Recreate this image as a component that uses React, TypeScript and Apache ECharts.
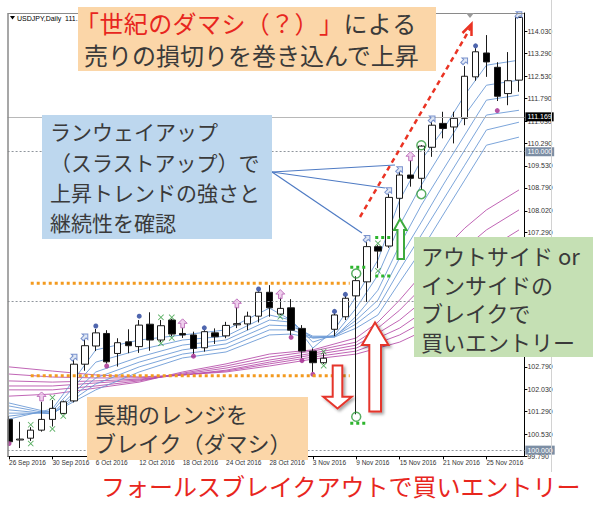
import React, { useEffect, useRef } from "react";
import * as echarts from "echarts";

const dates = ["26 Sep 2016","27 Sep 2016","28 Sep 2016","29 Sep 2016","30 Sep 2016","3 Oct 2016","4 Oct 2016","5 Oct 2016","6 Oct 2016","7 Oct 2016","10 Oct 2016","11 Oct 2016","12 Oct 2016","13 Oct 2016","14 Oct 2016","17 Oct 2016","18 Oct 2016","19 Oct 2016","20 Oct 2016","21 Oct 2016","24 Oct 2016","25 Oct 2016","26 Oct 2016","27 Oct 2016","28 Oct 2016","31 Oct 2016","1 Nov 2016","2 Nov 2016","3 Nov 2016","4 Nov 2016","7 Nov 2016","8 Nov 2016","9 Nov 2016","10 Nov 2016","11 Nov 2016","14 Nov 2016","15 Nov 2016","16 Nov 2016","17 Nov 2016","18 Nov 2016","21 Nov 2016","22 Nov 2016","23 Nov 2016","24 Nov 2016","25 Nov 2016","28 Nov 2016","29 Nov 2016","30 Nov 2016"];

const opens = [101.03,100.34,100.40,100.67,101.03,101.23,101.65,102.88,103.49,103.91,103.24,103.63,103.47,104.22,103.69,104.36,103.91,103.86,103.43,103.93,103.83,104.20,104.23,104.49,105.29,104.56,104.77,104.08,103.32,102.93,104.05,104.47,105.17,105.64,106.82,106.84,108.44,109.22,109.11,110.15,110.95,110.83,111.12,112.51,113.31,112.83,111.95,112.40];
const closes = [100.28,100.37,100.67,101.03,101.40,101.62,102.88,103.50,103.93,102.96,103.60,103.50,104.19,103.69,104.17,103.89,103.86,103.41,103.97,103.80,104.18,104.24,104.49,105.29,104.77,104.75,104.02,103.32,102.93,103.08,104.53,105.09,105.68,106.82,106.67,108.47,109.22,109.11,110.19,110.89,110.78,111.12,112.53,113.35,113.01,111.86,112.38,114.50];
const highs = [101.14,100.95,100.77,101.62,101.68,101.66,103.02,103.69,104.06,104.02,103.75,104.05,104.36,104.62,104.36,104.40,104.09,103.97,104.02,104.08,104.30,104.80,104.64,105.32,105.53,105.13,105.06,104.19,103.41,103.24,104.58,105.16,105.83,106.97,106.87,108.58,109.32,109.72,110.22,110.99,111.34,111.34,112.87,113.47,113.91,113.00,113.34,114.55];
const lows = [100.27,100.07,100.31,100.62,100.79,101.20,101.60,102.66,103.32,102.90,102.80,103.25,103.26,103.33,103.62,103.82,103.76,103.22,103.30,103.56,103.75,104.09,104.02,104.28,104.47,104.52,103.85,103.09,102.62,102.89,103.82,104.36,101.20,104.97,106.10,106.78,107.68,108.83,108.72,109.83,110.45,110.28,110.89,112.38,112.51,111.70,111.56,112.01];

// price scale ticks; labels that the green box hides in the reference are left out
const priceTicks = [99.79,100.53,101.29,102.03,102.79,103.53,104.29,105.03,105.79,106.53,107.29,108.02,108.79,109.53,110.29,111.03,111.79,112.53,113.29,114.03];
const priceLabels = [99.79,100.53,101.29,102.03,102.79,107.29,108.02,108.79,109.53,110.29,111.03,111.79,112.53,113.29,114.03];
const currentPrice = 111.169;
const roundLevels = [110, 105, 100];
const labelledRoundLevels = [110, 100];

// short-term ribbon (fast -> slow), read at these bars
const shortIdx = [0,4,8,12,16,20,24,26,28,30,32,34,36,38,40,42,44,47];
const short1 = [101.04,101.38,103.36,103.69,103.86,104.03,104.76,104.36,103.42,104.03,105.16,106.37,108.38,109.72,110.73,111.90,112.90,113.07];
const short2 = [101.14,101.31,102.95,103.36,103.69,103.82,104.53,104.36,103.62,103.86,104.76,105.87,107.54,108.88,110.06,111.23,112.23,112.40];
const short3 = [101.24,101.24,102.62,103.12,103.52,103.69,104.36,104.29,103.76,103.79,104.49,105.36,106.87,108.21,109.39,110.56,111.73,111.90];
const short4 = [101.35,101.21,102.42,102.95,103.36,103.56,104.19,104.16,103.82,103.82,104.36,105.03,106.44,107.64,108.88,110.06,111.23,111.39];
const short5 = [101.48,101.21,102.22,102.79,103.22,103.42,104.03,104.03,103.79,103.82,104.23,104.79,106.04,107.21,108.38,109.55,110.73,110.99];
const short6 = [101.58,101.24,102.02,102.62,103.09,103.29,103.86,103.89,103.76,103.79,104.09,104.53,105.63,106.70,107.88,109.05,110.22,110.49];

// long-term ribbon (fast -> slow)
const longIdx = [0,4,8,12,16,20,24,28,32,34,36,38,40,42,44,47];
const long1 = [101.81,101.88,102.08,102.28,102.62,102.89,103.22,103.36,103.76,104.29,105.03,105.87,106.70,107.44,108.05,108.72];
const long2 = [102.02,102.02,102.15,102.32,102.58,102.82,103.12,103.32,103.62,104.09,104.69,105.43,106.10,106.77,107.38,108.05];
const long3 = [102.15,102.15,102.25,102.35,102.55,102.75,103.02,103.25,103.52,103.92,104.36,104.96,105.53,106.20,106.70,107.38];
const long4 = [102.32,102.28,102.32,102.38,102.52,102.68,102.95,103.19,103.42,103.76,104.09,104.59,105.10,105.63,106.20,106.77];
const long5 = [102.55,102.45,102.42,102.42,102.52,102.65,102.89,103.12,103.32,103.59,103.86,104.26,104.69,105.20,105.70,106.20];
const long6 = [102.79,102.65,102.52,102.45,102.52,102.62,102.82,103.05,103.22,103.42,103.62,103.96,104.36,104.76,105.20,105.70];

// signal markers [bar, price]
const blueDots = [[8,104.16],[12,104.49],[18,104.10],[23,105.40],[30,104.65],[31,105.22],[43,113.55]];
const magentaDots = [[0,100.22],[9,102.82],[17,103.15],[26,103.78],[27,103.00],[28,102.54],[45,111.38]];
const greenCrosses = [[2,100.85],[2,100.22],[4,101.76],[4,100.71],[5,101.14],[14,104.45],[14,103.58],[15,104.45],[15,103.76],[25,104.47],[29,103.30],[29,102.83],[34,106.93],[34,106.01]];
const pinkArrows = [[3,101.80],[16,104.25],[21,104.92],[25,105.23],[37,109.85]];
const blueArrows = [[6,103.12],[7,103.80],[33,107.10],[35,108.70],[36,109.40],[39,111.10],[42,113.05],[47,114.60]];
const greenCircles = [[32,105.92],[32,101.12],[38,110.22],[38,108.58]];

// annotation levels
const rangeHigh = 105.59;
const rangeLow = 102.49;
const rangeFrom = 2.0;
const rangeTo = 31.4;
const breakouts = [
  { from: 31.45, to: 32.95, high: 106.13, low: 100.9 },
  { from: 33.75, to: 35.3, high: 107.13, low: 105.84 },
];

const JP = '"Noto Sans CJK JP", "Noto Sans", sans-serif';
const SMALL = '"Liberation Sans", "DejaVu Sans", sans-serif';
const RED = "#E8261E";
const DARK = "#3a3a3a";
const ORANGE_BOX = "#FBD6A8";
const BLUE_BOX = "#BDD7EE";
const GREEN_BOX = "#C5E0B4";
const BLUE_MA = "#6E9BD6";
const PURPLE_MA = "#B54AA8";

const pairs = (idx: number[], vals: number[]) => idx.map((x, k) => [x, vals[k]]);

function buildOption(): any {
  const shorts = [short1, short2, short3, short4, short5, short6];
  const longs = [long1, long2, long3, long4, long5, long6];
  const maSeries: any[] = [];
  longs.forEach((vals, k) =>
    maSeries.push({
      type: "line",
      data: pairs(longIdx, vals),
      symbol: "none",
      silent: true,
      lineStyle: { color: PURPLE_MA, width: 1, opacity: 0.85 },
      z: 2,
      name: "long" + k,
    })
  );
  shorts.forEach((vals, k) =>
    maSeries.push({
      type: "line",
      data: pairs(shortIdx, vals),
      symbol: "none",
      silent: true,
      lineStyle: { color: BLUE_MA, width: 1, opacity: 0.9 },
      z: 2,
      name: "short" + k,
    })
  );

  const markLabel = {
    show: true,
    position: "end",
    distance: 1,
    fontSize: 7,
    fontFamily: SMALL,
    color: "#fff",
    padding: [1, 2, 1, 2],
  };

  return {
    animation: false,
    backgroundColor: "#ffffff",
    grid: { left: 3.6, right: 75.6, top: 13, bottom: 51.6, outerBoundsMode: "none", containLabel: false },
    xAxis: {
      type: "category",
      data: dates,
      boundaryGap: true,
      axisLine: { show: true, lineStyle: { color: "#000", width: 1 } },
      axisTick: { show: true, alignWithLabel: true, interval: 3, length: 3, lineStyle: { color: "#000" } },
      axisLabel: { interval: 3, align: "left", fontSize: 6.5, color: "#333", margin: 3, fontFamily: SMALL },
      splitLine: { show: false },
    },
    yAxis: {
      type: "value",
      position: "right",
      min: 99.79,
      max: 114.65,
      splitLine: { show: false },
      axisLine: { show: true, lineStyle: { color: "#000", width: 1 } },
      axisTick: { show: true, length: 3, customValues: priceTicks, lineStyle: { color: "#000" } },
      axisLabel: {
        customValues: priceLabels,
        formatter: (v: number) => v.toFixed(3),
        fontSize: 7,
        color: "#333",
        margin: 3,
        fontFamily: SMALL,
      },
    },
    series: [
      ...maSeries,
      {
        type: "candlestick",
        data: opens.map((o, i) => [o, closes[i], lows[i], highs[i]]),
        barWidth: 7,
        z: 3,
        itemStyle: { color: "#ffffff", color0: "#000000", borderColor: "#1a1a1a", borderColor0: "#1a1a1a", borderWidth: 1 },
        markLine: {
          silent: true,
          symbol: ["none", "none"],
          data: [
            {
              yAxis: currentPrice,
              lineStyle: { color: "#b8b8b8", type: "solid", width: 1 },
              label: { ...markLabel, formatter: currentPrice.toFixed(3), backgroundColor: "#000" },
            },
            ...roundLevels.map((v) => ({
              yAxis: v,
              lineStyle: { color: "#8f959c", type: [2, 2], width: 1 },
              label: labelledRoundLevels.includes(v)
                ? { ...markLabel, formatter: v.toFixed(3), backgroundColor: "#7C8EA4" }
                : { show: false },
            })),
          ],
        },
      },
      {
        type: "scatter",
        data: blueDots,
        symbol: "circle",
        symbolSize: 5,
        itemStyle: { color: "#23409A" },
        z: 5,
      },
      {
        type: "scatter",
        data: magentaDots,
        symbol: "circle",
        symbolSize: 5,
        itemStyle: { color: "#A3288F" },
        z: 5,
      },
      {
        type: "scatter",
        data: greenCrosses,
        symbol: "path://M0,1 L1,0 L5,4 L9,0 L10,1 L6,5 L10,9 L9,10 L5,6 L1,10 L0,9 L4,5 Z",
        symbolSize: 6,
        itemStyle: { color: "#2E9A3A" },
        z: 5,
      },
      {
        type: "scatter",
        data: pinkArrows,
        symbol: "path://M5,0 L10,5 L7,5 L7,10 L3,10 L3,5 L0,5 Z",
        symbolSize: [9, 9],
        itemStyle: { color: "#EBC4E8", borderColor: "#B45AB0", borderWidth: 1 },
        z: 5,
      },
      {
        type: "scatter",
        data: blueArrows,
        symbol: "path://M5,0 L10,5 L7,5 L7,10 L3,10 L3,5 L0,5 Z",
        symbolSize: [8, 8],
        symbolRotate: -45,
        itemStyle: { color: "#D8E2F2", borderColor: "#5A78C0", borderWidth: 1 },
        z: 5,
      },
      {
        type: "scatter",
        data: greenCircles,
        symbol: "circle",
        symbolSize: 9,
        itemStyle: { color: "rgba(255,255,255,0)", borderColor: "#2E9A3A", borderWidth: 1.5 },
        z: 5,
      },
    ],
  };
}

export default function App() {
  const ref = useRef<HTMLDivElement>(null);
  useEffect(() => {
    const el = ref.current;
    if (!el) return;
    const chart = echarts.init(el, null, { renderer: "svg" });
    chart.setOption(buildOption());

    const pA = chart.convertToPixel({ gridIndex: 0 }, [0, 100]) as number[];
    const pB = chart.convertToPixel({ gridIndex: 0 }, [47, 100]) as number[];
    const bx = (i: number) => pA[0] + ((pB[0] - pA[0]) * i) / 47;
    const py = (v: number) => (chart.convertToPixel({ gridIndex: 0 }, [0, v]) as number[])[1];

    const line = (x1: number, y1: number, x2: number, y2: number, stroke: string, lineWidth: number, lineDash?: number[], z = 45) => ({
      type: "line",
      z,
      silent: true,
      shape: { x1, y1, x2, y2 },
      style: { stroke, lineWidth, lineDash },
    });
    const rect = (x: number, y: number, width: number, height: number, fill: string, z = 50) => ({
      type: "rect",
      z,
      silent: true,
      shape: { x, y, width, height },
      style: { fill },
    });
    const txt = (text: string, x: number, y: number, size: number, fill: string, family = JP, z = 60) => ({
      type: "text",
      z,
      silent: true,
      style: { text, x, y, fill, fontSize: size, fontFamily: family, verticalAlign: "middle", align: "left" },
    });
    const poly = (points: number[][], stroke: string, shadow: boolean, z = 55) => ({
      type: "polygon",
      z,
      silent: true,
      shape: { points },
      style: {
        fill: "#ffffff",
        stroke,
        lineWidth: 2,
        shadowBlur: shadow ? 3 : 0,
        shadowColor: "rgba(0,0,0,0.35)",
        shadowOffsetX: shadow ? 2 : 0,
        shadowOffsetY: shadow ? 2 : 0,
      },
    });

    const elements: any[] = [];
    // frame pieces of the trading window
    elements.push(rect(0, 12, 7.5, 448, "#ffffff", 40));
    elements.push(line(8, 13, 8, 457, "#8a8a8a", 1.5, undefined, 41));
    elements.push(line(8, 13.5, 524, 13.5, "#8a8a8a", 1, undefined, 41));
    elements.push(line(551.5, 0, 551.5, 472, "#d2d2d2", 1, undefined, 41));
    elements.push({ type: "polygon", z: 42, silent: true, shape: { points: [[10, 16], [15, 16], [12.5, 19.5]] }, style: { fill: "#000" } });
    elements.push(txt("USDJPY,Daily  111.1", 17, 18, 7, "#000", SMALL, 42));
    elements.push({ type: "polygon", z: 42, silent: true, shape: { points: [[466, 13], [474, 13], [470, 18]] }, style: { fill: "#9a9a9a" } });

    // range (orange dotted)
    [rangeHigh, rangeLow].forEach((v) => elements.push(line(bx(rangeFrom), py(v), bx(rangeTo), py(v), "#F39A1F", 3, [3, 3], 44)));
    // breakout levels (green dotted)
    breakouts.forEach((b) => {
      elements.push(line(bx(b.from), py(b.high), bx(b.to), py(b.high), "#2DB52D", 3, [3, 3], 44));
      elements.push(line(bx(b.from), py(b.low), bx(b.to), py(b.low), "#2DB52D", 3, [3, 3], 44));
    });

    // red dashed trend arrow
    elements.push(line(360, 217, 471, 27, "#EA3323", 2.5, [5, 4], 46));
    elements.push({
      type: "polyline",
      z: 46,
      silent: true,
      shape: { points: [[462.5, 33], [471.5, 24], [471.5, 36]] },
      style: { stroke: "#EA3323", lineWidth: 2.5, fill: null },
    });

    // callout lines from the blue box
    elements.push(line(272, 172, 395, 165, "#4F7BC4", 1.2, undefined, 46));
    elements.push(line(272, 172, 385, 188, "#4F7BC4", 1.2, undefined, 46));
    elements.push(line(272, 172, 362, 233, "#4F7BC4", 1.2, undefined, 46));

    // block arrows
    elements.push(poly([[332.7, 365.5], [342.3, 365.5], [342.3, 396.7], [351.7, 396.7], [337.5, 408.5], [323.3, 396.7], [332.7, 396.7]], "#E5352C", true));
    elements.push(poly([[375, 322.5], [388.5, 345], [381, 345], [381, 411.5], [369.3, 411.5], [369.3, 345], [362, 345]], "#E5352C", true));
    elements.push(poly([[400, 219], [406.5, 230], [404, 230], [404, 259], [397.5, 259], [397.5, 230], [394, 230]], "#3DAA3D", false));

    // top orange box; first line laid out on a fixed full-width grid
    elements.push(rect(78, 7, 358, 64, ORANGE_BOX));
    const head = Array.from("「世紀のダマシ（？）」");
    const tail = Array.from("による");
    head.forEach((ch, k) => elements.push(txt(ch, 75 + k * 24.4, 22.5, 24, RED)));
    tail.forEach((ch, k) => elements.push(txt(ch, 75 + (head.length + k) * 24.4, 22.5, 24, DARK)));
    elements.push(txt("売りの損切りを巻き込んで上昇", 84, 54, 24, DARK));

    // blue box
    elements.push(rect(42, 115, 230, 124, BLUE_BOX));
    elements.push(txt("ランウェイアップ", 50, 131, 21, DARK));
    elements.push(txt("（スラストアップ）で", 50, 161.5, 21, DARK));
    elements.push(txt("上昇トレンドの強さと", 50, 192, 21, DARK));
    elements.push(txt("継続性を確認", 50, 222, 21, DARK));

    // green box
    elements.push(rect(414, 237, 179, 120, GREEN_BOX));
    elements.push(txt("アウトサイド or", 421, 255, 22, DARK));
    elements.push(txt("インサイドの", 421, 283.5, 22, DARK));
    elements.push(txt("ブレイクで", 421, 312, 22, DARK));
    elements.push(txt("買いエントリー", 421, 340.5, 22, DARK));

    // bottom-left orange box
    elements.push(rect(87, 397, 221, 63, ORANGE_BOX));
    elements.push(txt("長期のレンジを", 94, 413, 22, DARK));
    elements.push(txt("ブレイク（ダマシ）", 94, 441.5, 22, DARK));

    // bottom red caption
    elements.push(txt("フォールスブレイクアウトで買いエントリー", 101, 485, 24, RED));

    chart.setOption({ graphic: { elements } });
    return () => chart.dispose();
  }, []);
  return <div ref={ref} style={{ position: "absolute", left: 0, top: 0, width: 600, height: 508 }} />;
}
